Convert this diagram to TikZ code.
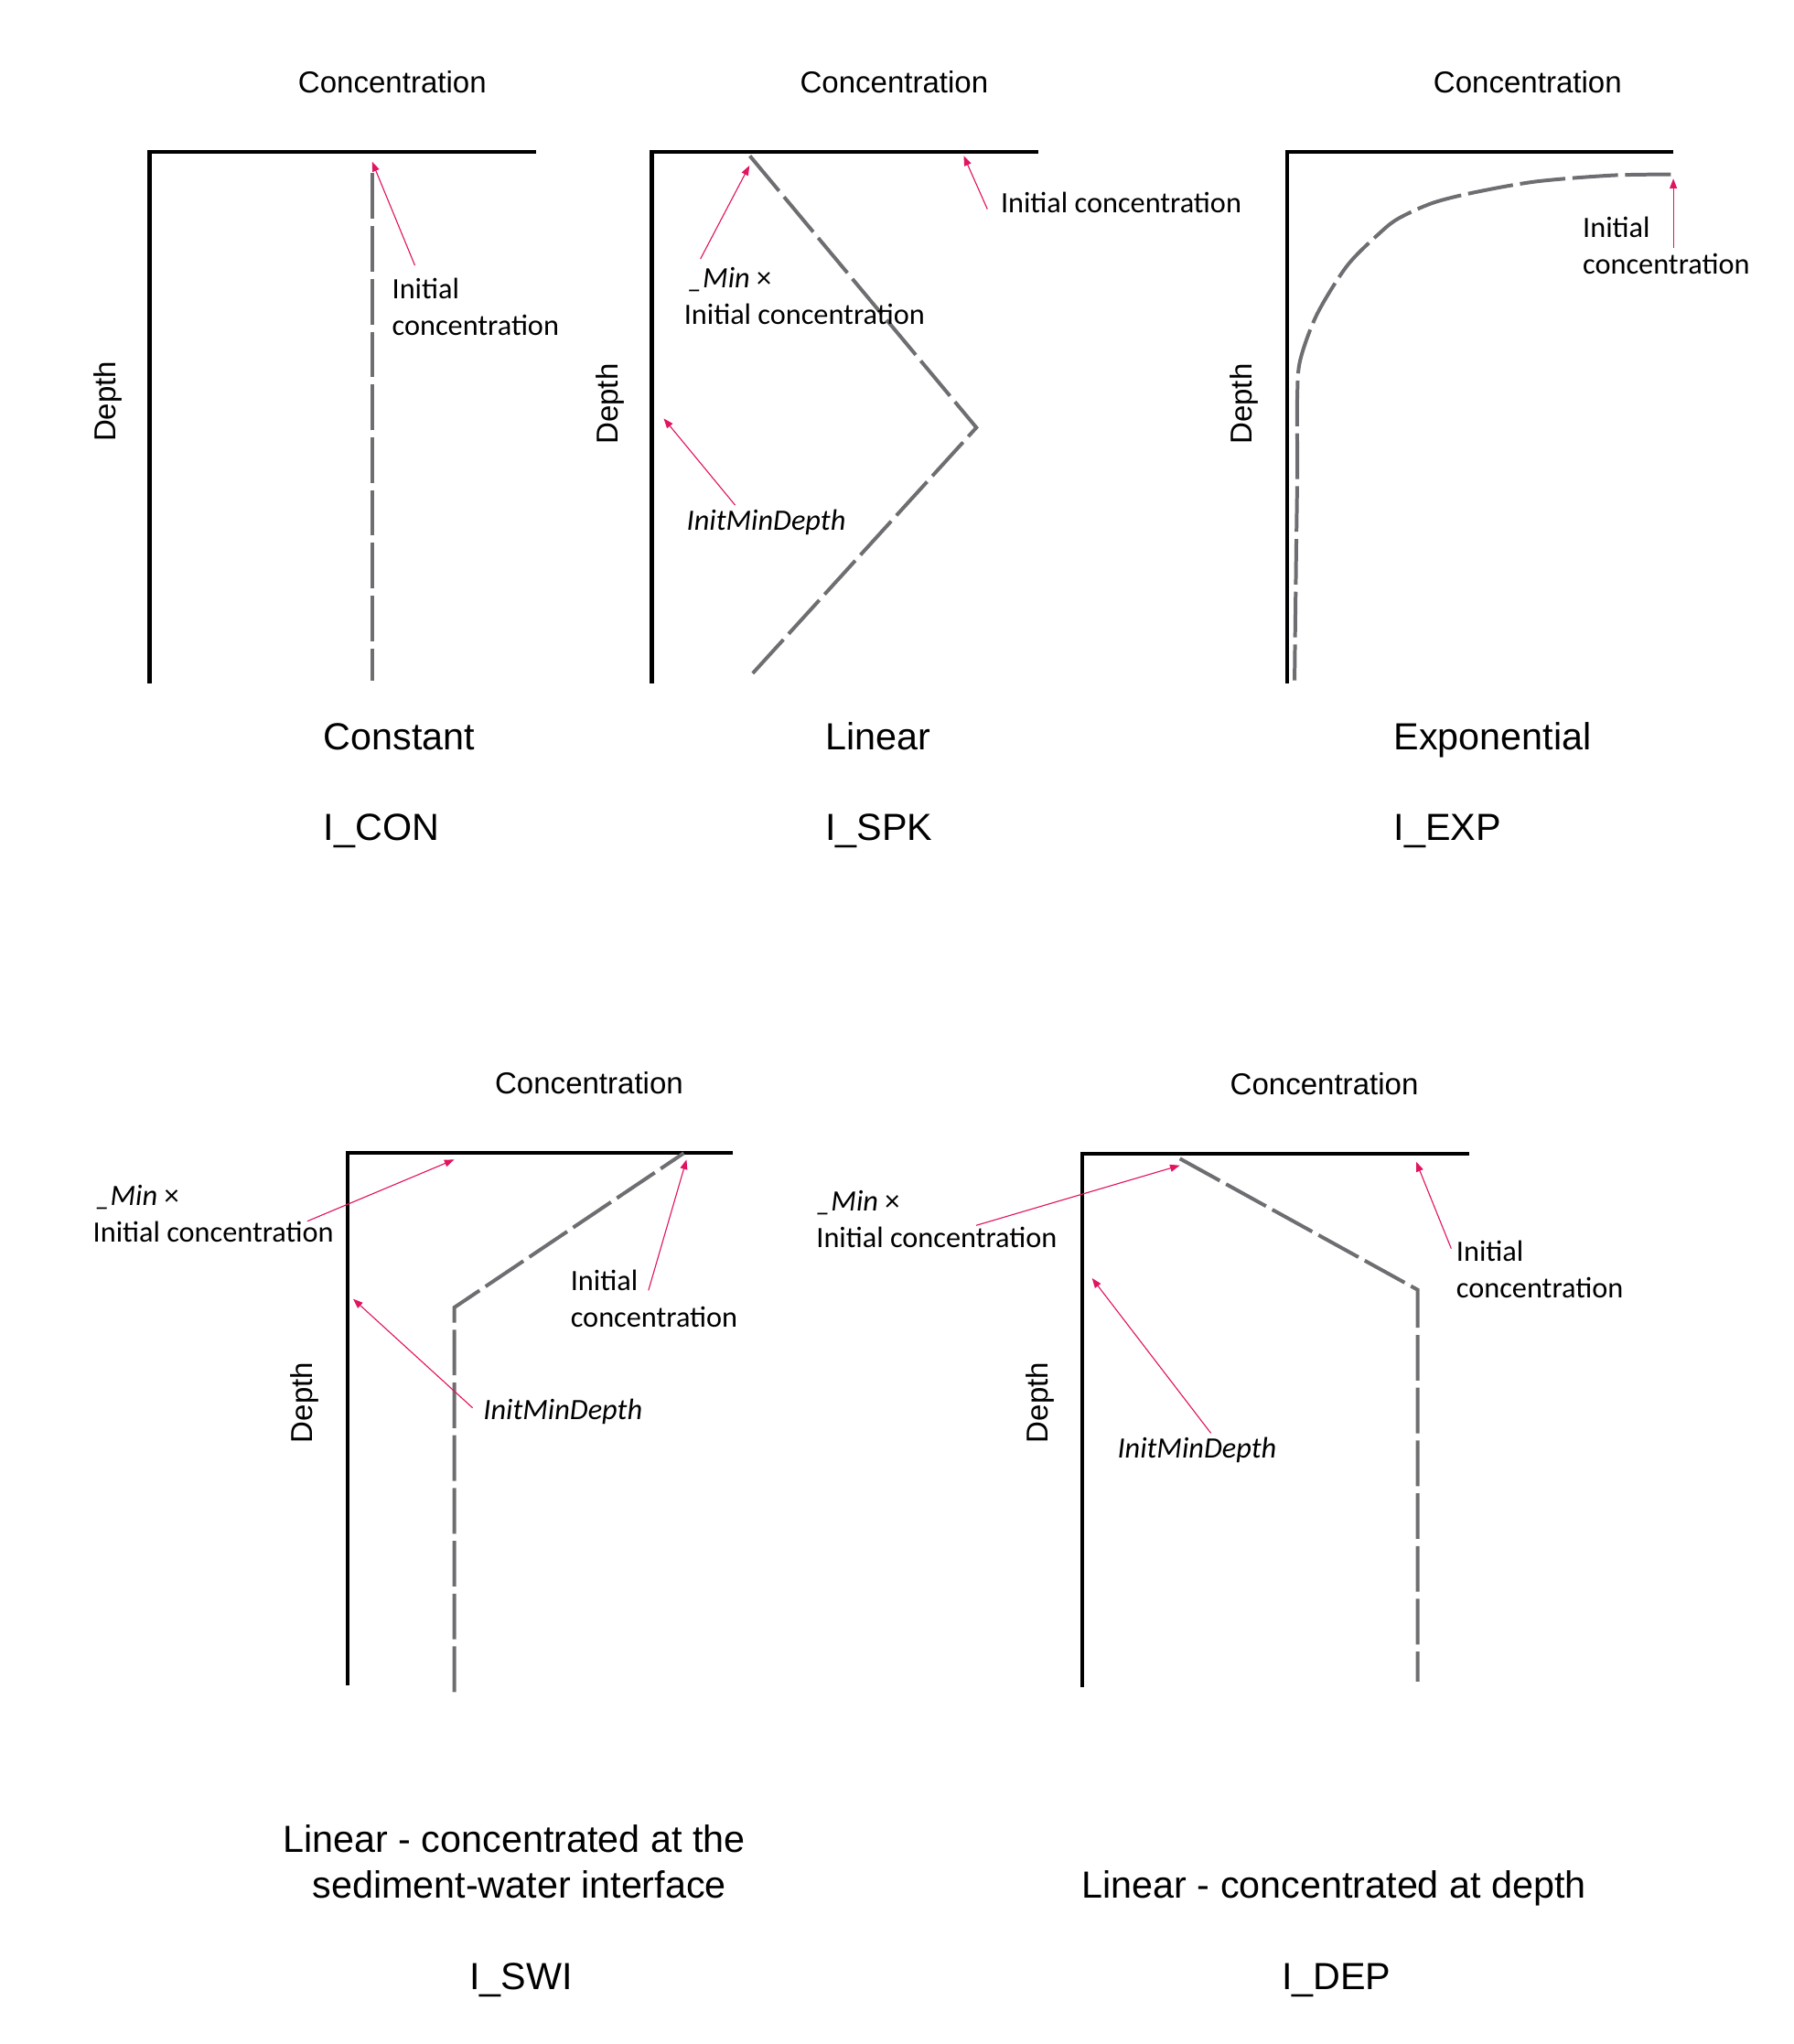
\documentclass[tikz,border=0pt]{standalone}
\usepackage{fontspec}
\setmainfont{Liberation Sans}
\newfontfamily\annfont{Carlito}
\usetikzlibrary{arrows.meta}
\definecolor{annred}{RGB}{224,20,96}
\definecolor{profgray}{RGB}{110,110,114}
\tikzset{
  axisline/.style={line width=0.058cm, black, line join=miter},
  profile/.style={line width=0.056cm, profgray, dash pattern=on 0.70cm off 0.11cm, line join=miter},
  callout/.style={color=annred, line width=0.45pt, -{Triangle[length=0.15cm,width=0.11cm]}},
  axlabel/.style={font=\fontsize{13.2}{15.8}\selectfont, inner sep=0, anchor=base},
  depthlabel/.style={font=\fontsize{13.2}{15.8}\selectfont, inner sep=0, anchor=base, rotate=90},
  titletext/.style={font=\fontsize{16.5}{19.8}\selectfont, inner sep=0},
  ann/.style={font=\annfont\fontsize{12.9}{15.9}\selectfont, inner sep=0, anchor=base west},
}
\begin{document}
\begin{tikzpicture}[x=0.02cm, y=-0.02cm]
\useasboundingbox (0,0) rectangle (1376,1568);

% ---------------- Panel 1: Constant ----------------
\coordinate (a1h) at (411,116.5);
\coordinate (a1c) at (114.8,116.5);
\coordinate (a1v) at (114.8,524);
\draw[axisline] (a1h) -- (a1c) -- (a1v);
\node[axlabel] (c1) at (301,71) {Concentration};
\node[depthlabel] (d1) at (89,308) {Depth};
\coordinate (p1a) at (285.5,133);
\coordinate (p1b) at (285.5,522);
\draw[profile] (p1a) -- (p1b);
\node[ann] (i1a) at (300.5,229) {Initial};
\node[ann] (i1b) at (300.5,257) {concentration};
\coordinate (r1t) at (318.3,203.6);
\coordinate (r1h) at (285.5,124);
\draw[callout] (r1t) -- (r1h);
\node[titletext, anchor=base west] (t1) at (248,575) {Constant};
\node[titletext, anchor=base west] (k1) at (248,645) {I\_CON};

% ---------------- Panel 2: Linear ----------------
\coordinate (a2h) at (796.7,116.5);
\coordinate (a2c) at (500.1,116.5);
\coordinate (a2v) at (500.1,524);
\draw[axisline] (a2h) -- (a2c) -- (a2v);
\node[axlabel] (c2) at (686,71) {Concentration};
\node[depthlabel] (d2) at (474,310) {Depth};
\coordinate (p2a) at (575.3,119.6);
\coordinate (p2b) at (749.1,328);
\coordinate (p2c) at (577.5,516.5);
\draw[profile, dash pattern=on 0.70cm off 0.119cm] (p2a) -- (p2b) -- (p2c);
\node[ann] (m2a) at (527.5,220.5) {\textit{\_Min} ×};
\node[ann] (m2b) at (524.5,248.5) {Initial concentration};
\node[ann] (i2) at (767.5,163.5) {Initial concentration};
\node[ann] (z2) at (526.5,407) {\textit{InitMinDepth}};
\coordinate (r2at) at (537.4,198.6);
\coordinate (r2ah) at (575,127);
\draw[callout] (r2at) -- (r2ah);
\coordinate (r2bt) at (757.5,160.4);
\coordinate (r2bh) at (739.4,119.6);
\draw[callout] (r2bt) -- (r2bh);
\coordinate (r2ct) at (564,387.5);
\coordinate (r2ch) at (509.2,321);
\draw[callout] (r2ct) -- (r2ch);
\node[titletext, anchor=base west] (t2) at (633,575) {Linear};
\node[titletext, anchor=base west] (k2) at (633,645) {I\_SPK};

% ---------------- Panel 3: Exponential ----------------
\coordinate (a3h) at (1283.5,116.5);
\coordinate (a3c) at (987.5,116.5);
\coordinate (a3v) at (987.5,524);
\draw[axisline] (a3h) -- (a3c) -- (a3v);
\node[axlabel] (c3) at (1172,71) {Concentration};
\node[depthlabel] (d3) at (960.5,310) {Depth};
\draw[profile] plot[smooth, tension=0.5] coordinates {(1281.8,133.8) (1237.3,134.5) (1178.9,139.2) (1132.1,147.4) (1099.4,155.6) (1073.6,167.2) (1059.6,177.8) (1033.8,203.5) (1010.5,240.9) (997.6,276) (995.3,304) (995.3,362.6) (994.5,421) (993.2,522)};
\node[ann] (i3a) at (1214,182) {Initial};
\node[ann] (i3b) at (1214,210) {concentration};
\coordinate (r3t) at (1283.8,190);
\coordinate (r3h) at (1283.8,137);
\draw[callout] (r3t) -- (r3h);
\node[titletext, anchor=base west] (t3) at (1069,575) {Exponential};
\node[titletext, anchor=base west] (k3) at (1069,645) {I\_EXP};

% ---------------- Panel 4: I_SWI ----------------
\coordinate (a4h) at (562.3,884.6);
\coordinate (a4c) at (266.6,884.6);
\coordinate (a4v) at (266.6,1293);
\draw[axisline] (a4h) -- (a4c) -- (a4v);
\node[axlabel] (c4) at (452,839) {Concentration};
\node[depthlabel] (d4) at (240,1076) {Depth};
\coordinate (p4a) at (348.5,1298);
\coordinate (p4b) at (348.5,1003);
\coordinate (p4c) at (524.6,884.6);
\draw[profile] (p4a) -- (p4b) -- (p4c);
\node[ann] (m4a) at (73,924.5) {\textit{\_Min} ×};
\node[ann] (m4b) at (71,952.5) {Initial concentration};
\node[ann] (i4a) at (437.5,990) {Initial};
\node[ann] (i4b) at (437.5,1018) {concentration};
\node[ann] (z4) at (370.5,1089) {\textit{InitMinDepth}};
\coordinate (r4at) at (235.8,936.8);
\coordinate (r4ah) at (348.5,889.5);
\draw[callout] (r4at) -- (r4ah);
\coordinate (r4bt) at (497.5,989.9);
\coordinate (r4bh) at (526.7,889.5);
\draw[callout] (r4bt) -- (r4bh);
\coordinate (r4ct) at (362.6,1080);
\coordinate (r4ch) at (270.9,996.4);
\draw[callout] (r4ct) -- (r4ch);
\node[titletext, anchor=base] (t4a) at (394.5,1421) {Linear - concentrated at the};
\node[titletext, anchor=base] (t4b) at (398.5,1456) {sediment-water interface};
\node[titletext, anchor=base west] (k4) at (360,1526) {I\_SWI};

% ---------------- Panel 5: I_DEP ----------------
\coordinate (a5h) at (1126.9,884.9);
\coordinate (a5c) at (830.3,884.9);
\coordinate (a5v) at (830.3,1294);
\draw[axisline] (a5h) -- (a5c) -- (a5v);
\node[axlabel] (c5) at (1016,840) {Concentration};
\node[depthlabel] (d5) at (804,1076) {Depth};
\coordinate (p5a) at (905.2,888.8);
\coordinate (p5b) at (1087.6,989.4);
\coordinate (p5c) at (1087.6,1290);
\draw[profile] (p5a) -- (p5b) -- (p5c);
\node[ann] (m5a) at (626,929) {\textit{\_Min} ×};
\node[ann] (m5b) at (626,957) {Initial concentration};
\node[ann] (i5a) at (1117,967.5) {Initial};
\node[ann] (i5b) at (1117,995.5) {concentration};
\node[ann] (z5) at (857,1118.7) {\textit{InitMinDepth}};
\coordinate (r5at) at (749,940);
\coordinate (r5ah) at (905.2,894);
\draw[callout] (r5at) -- (r5ah);
\coordinate (r5bt) at (1113.4,957.8);
\coordinate (r5bh) at (1086.5,891.2);
\draw[callout] (r5bt) -- (r5bh);
\coordinate (r5ct) at (929,1099.4);
\coordinate (r5ch) at (837.8,980.5);
\draw[callout] (r5ct) -- (r5ch);
\node[titletext, anchor=base] (t5) at (1023.5,1456) {Linear - concentrated at depth};
\node[titletext, anchor=base west] (k5) at (983,1526) {I\_DEP};
\end{tikzpicture}
\end{document}
